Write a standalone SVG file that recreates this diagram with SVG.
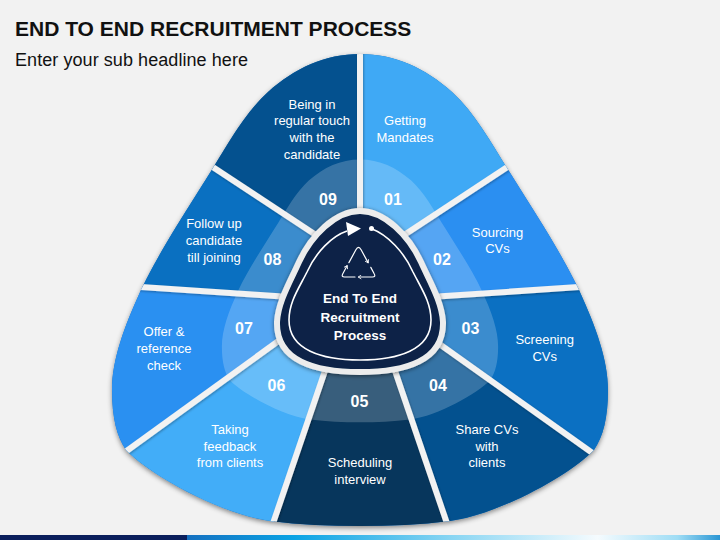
<svg xmlns="http://www.w3.org/2000/svg" width="720" height="540" viewBox="0 0 720 540">
<style>
.t{font-family:"Liberation Sans",Arial,sans-serif;fill:#fff;font-size:13px;text-anchor:middle}
.n{font-family:"Liberation Sans",Arial,sans-serif;fill:#fff;font-size:16px;font-weight:bold;text-anchor:middle}
.c{font-family:"Liberation Sans",Arial,sans-serif;fill:#fff;font-size:13.5px;font-weight:bold;text-anchor:middle}
.gap{stroke:#F2F2F2;stroke-width:6;stroke-linecap:butt;fill:none}
.ic{fill:none;stroke:#fff;stroke-width:1.2;stroke-linecap:round;stroke-linejoin:round}
.seg{clip-path:url(#oc)}
</style>
<defs>
<clipPath id="oc"><path d="M360,54 C395,54 425,68 452,92 C475,113 492,144 507,168 C530,205 560,250 579,290 C596,327 608,360 608,390 C608,418 603,437 594,450 C570,475 500,514 450,521 C420,525 390,526 360,526 C330,526 300,525 270,521 C220,514 150,475 126,450 C117,437 112,418 112,390 C112,360 124,327 141,290 C160,250 190,205 213,168 C228,144 245,113 268,92 C295,68 325,54 360,54 Z"/></clipPath>
<filter id="sh" x="-10%" y="-10%" width="120%" height="120%"><feDropShadow dx="0" dy="2" stdDeviation="2.5" flood-color="#000" flood-opacity="0.45"/></filter>
<filter id="gsh" x="-10%" y="-10%" width="120%" height="120%"><feDropShadow dx="0.8" dy="1.2" stdDeviation="1" flood-color="#000" flood-opacity="0.3"/></filter>
<filter id="csh" x="-20%" y="-20%" width="140%" height="140%"><feDropShadow dx="0" dy="1" stdDeviation="2" flood-color="#000" flood-opacity="0.5"/></filter>
<linearGradient id="bar" gradientUnits="userSpaceOnUse" x1="187" y1="0" x2="720" y2="0">
<stop offset="0" stop-color="#1570C0"/>
<stop offset="0.2" stop-color="#0AA3E4"/>
<stop offset="0.5" stop-color="#8AD6F3"/>
<stop offset="0.77" stop-color="#F5FBFE"/>
<stop offset="0.92" stop-color="#9FDDF5"/>
<stop offset="1" stop-color="#2A96D4"/>
</linearGradient>
<marker id="ch" viewBox="0 0 10 10" refX="7" refY="5" markerWidth="5" markerHeight="5" orient="auto" markerUnits="userSpaceOnUse"><path d="M1.5,1 L7.5,5 L1.5,9" fill="none" stroke="#fff" stroke-width="1.6"/></marker>
</defs>

<rect width="720" height="540" fill="#F2F2F2"/>

<text x="15" y="36" font-family="Liberation Sans, Arial, sans-serif" font-size="21" font-weight="bold" fill="#111">END TO END RECRUITMENT PROCESS</text>
<text x="15" y="66" font-family="Liberation Sans, Arial, sans-serif" font-size="18" fill="#111" textLength="233">Enter your sub headline here</text>

<path id="base" filter="url(#sh)" fill="#1E6FB8" d="M360,54 C395,54 425,68 452,92 C475,113 492,144 507,168 C530,205 560,250 579,290 C596,327 608,360 608,390 C608,418 603,437 594,450 C570,475 500,514 450,521 C420,525 390,526 360,526 C330,526 300,525 270,521 C220,514 150,475 126,450 C117,437 112,418 112,390 C112,360 124,327 141,290 C160,250 190,205 213,168 C228,144 245,113 268,92 C295,68 325,54 360,54 Z"/>

<g id="segments">
<g id="step01">
<path class="seg" fill="#3FA9F5" d="M360,295 L360,230 L360,30 L560,30 L527,154 L392,243 Z"/>
<text class="t" x="405" y="125">Getting</text>
<text class="t" x="405" y="141.7">Mandates</text>
</g>
<g id="step02">
<path class="seg" fill="#2B8FF1" d="M360,295 L392,243 L527,154 L640,200 L605,285.3 L430,297 Z"/>
<text class="t" x="497.5" y="236.7">Sourcing</text>
<text class="t" x="497.5" y="253.3">CVs</text>
</g>
<g id="step03">
<path class="seg" fill="#0B70C2" d="M360,295 L430,297 L605,285.3 L650,380 L610,465.5 L433,339.5 Z"/>
<text class="t" x="544.7" y="344">Screening</text>
<text class="t" x="544.7" y="360.7">CVs</text>
</g>
<g id="step04">
<path class="seg" fill="#03518F" d="M360,295 L433,339.5 L610,465.5 L560,560 L454,544 L392,362 Z"/>
<text class="t" x="487" y="434">Share CVs</text>
<text class="t" x="487" y="450.7">with</text>
<text class="t" x="487" y="467.3">clients</text>
</g>
<g id="step05">
<path class="seg" fill="#07365C" d="M360,295 L392,362 L454,544 L266,544 L328,362 Z"/>
<text class="t" x="360" y="467.3">Scheduling</text>
<text class="t" x="360" y="484">interview</text>
</g>
<g id="step06">
<path class="seg" fill="#42ADF8" d="M360,295 L328,362 L266,544 L160,560 L110,463 L286,335.5 Z"/>
<text class="t" x="230" y="434">Taking</text>
<text class="t" x="230" y="450.7">feedback</text>
<text class="t" x="230" y="467.3">from clients</text>
</g>
<g id="step07">
<path class="seg" fill="#2A90F1" d="M360,295 L286,335.5 L110,463 L70,380 L115,285.3 L290,297 Z"/>
<text class="t" x="164" y="336">Offer &amp;</text>
<text class="t" x="164" y="353">reference</text>
<text class="t" x="164" y="369.7">check</text>
</g>
<g id="step08">
<path class="seg" fill="#0A70C1" d="M360,295 L290,297 L115,285.3 L80,200 L193,154 L328,243 Z"/>
<text class="t" x="214" y="228.3">Follow up</text>
<text class="t" x="214" y="245">candidate</text>
<text class="t" x="214" y="261.7">till joining</text>
</g>
<g id="step09">
<path class="seg" fill="#04518F" d="M360,295 L328,243 L193,154 L160,30 L360,30 L360,230 Z"/>
<text class="t" x="312" y="108.5">Being in</text>
<text class="t" x="312" y="125.2">regular touch</text>
<text class="t" x="312" y="142">with the</text>
<text class="t" x="312" y="158.7">candidate</text>
</g>
</g>

<path id="overlay" fill="#fff" fill-opacity="0.2" transform="translate(360 292) scale(0.557) translate(-360 -292)" d="M360,54 C395,54 425,68 452,92 C475,113 492,144 507,168 C530,205 560,250 579,290 C596,327 608,360 608,390 C608,418 603,437 594,450 C570,475 500,514 450,521 C420,525 390,526 360,526 C330,526 300,525 270,521 C220,514 150,475 126,450 C117,437 112,418 112,390 C112,360 124,327 141,290 C160,250 190,205 213,168 C228,144 245,113 268,92 C295,68 325,54 360,54 Z"/>

<g id="numbers">
<text class="n" x="328" y="205">09</text>
<text class="n" x="393" y="205">01</text>
<text class="n" x="272.5" y="265">08</text>
<text class="n" x="442" y="265">02</text>
<text class="n" x="244" y="333.5">07</text>
<text class="n" x="470.5" y="333.5">03</text>
<text class="n" x="276.5" y="391">06</text>
<text class="n" x="438" y="391">04</text>
<text class="n" x="359.5" y="407">05</text>
</g>

<g id="connectors" clip-path="url(#oc)">
<g filter="url(#gsh)">
<line class="gap" x1="360" y1="30" x2="360" y2="232"/>
<line class="gap" x1="527" y1="154" x2="392" y2="243"/>
<line class="gap" x1="605" y1="285.3" x2="430" y2="297"/>
<line class="gap" x1="610" y1="465.5" x2="433" y2="339.5"/>
<line class="gap" x1="454" y1="544" x2="392" y2="362"/>
<line class="gap" x1="266" y1="544" x2="328" y2="362"/>
<line class="gap" x1="110" y1="463" x2="286" y2="335.5"/>
<line class="gap" x1="115" y1="285.3" x2="290" y2="297"/>
<line class="gap" x1="193" y1="154" x2="328" y2="243"/>
</g>
</g>

<g id="center">
<path filter="url(#csh)" fill="#082346" stroke="#ECECEC" stroke-width="6" d="M360,211 C385,211 409,236 421,262 C430,282 442,302 443,322 C444,361 405,372 360,372 C315,372 276,361 277,322 C278,302 290,282 299,262 C311,236 335,211 360,211 Z"/>
<path fill="none" stroke="#fff" stroke-width="1.6" d="M371,228.5 C388,235 404,252 413,272 C421,288 431,302 431,320 C431,350 398,360 360,360 C322,360 289,350 289,320 C289,302 299,288 307,272 C316,252 332,236 347,231"/>
<polygon fill="#fff" points="361,228.5 346,222 348,236"/>
<circle fill="#fff" cx="371.5" cy="228.5" r="2.5"/>
<path class="ic" marker-end="url(#ch)" d="M348.9,262.6 L355.9,249.8 Q358.5,245 361.1,249.8 L368.1,262.6"/>
<path class="ic" marker-end="url(#ch)" d="M370.8,267.4 L374.2,273.8 Q376,277 372.5,277 L358.5,277"/>
<path class="ic" marker-end="url(#ch)" d="M355,277 L344.5,277 Q341,277 342.8,273.8 L347.1,265.8"/>
<text class="c" x="360" y="303.3">End To End</text>
<text class="c" x="360" y="321.7">Recruitment</text>
<text class="c" x="360" y="340">Process</text>
</g>

<rect x="0" y="535" width="187" height="5" fill="#0B1F5C"/>
<rect x="187" y="535" width="533" height="5" fill="url(#bar)"/>
</svg>
